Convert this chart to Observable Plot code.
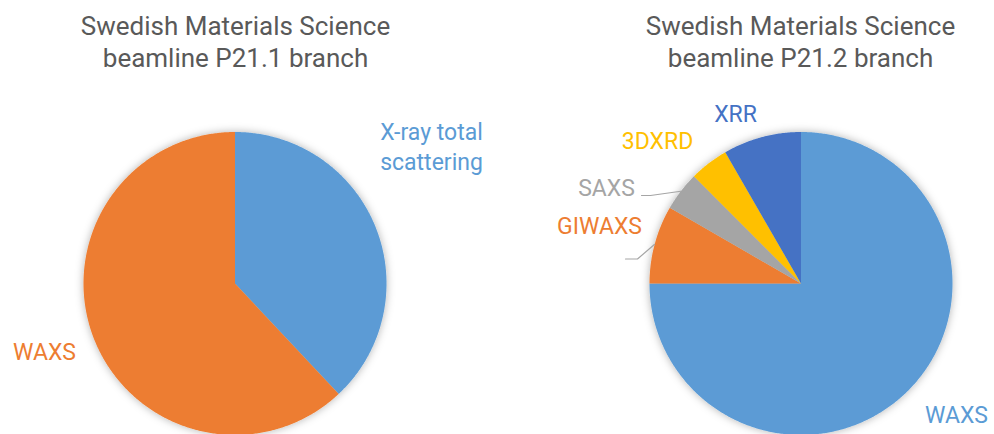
<!DOCTYPE html>
<html><head><meta charset="utf-8">
<script src="https://cdn.jsdelivr.net/npm/d3@7"></script>
<script src="https://cdn.jsdelivr.net/npm/@observablehq/plot@0.6"></script>
<style>body{margin:0;background:#fff}</style>
</head><body><div id="chart"></div>
<script>
// ---- data ----
const leftCategories = ["X-ray total scattering", "WAXS"];
const leftValues = [38, 62];
const rightCategories = ["WAXS", "GIWAXS", "SAXS", "3DXRD", "XRR"];
const rightValues = [18, 2, 1, 1, 2];
const titleLines = [
  ["Swedish Materials Science", "beamline P21.1 branch"],
  ["Swedish Materials Science", "beamline P21.2 branch"]
];
const leftLabels = ["X-ray total\nscattering", "WAXS"];
const rightLabels = ["WAXS", "GIWAXS", "SAXS", "3DXRD", "XRR"];

// ---- layout / style ----
const W = 994, H = 434;
const palette = ["#5B9BD5", "#ED7D31", "#A5A5A5", "#FFC000", "#4472C4"];
const pies = [
  {cats: leftCategories, vals: leftValues, labels: leftLabels, cx: 234.5, cy: 283, r: 151.5, titleX: 235,
   labelPos: [{x: 431, y: 145}, {x: 44, y: 350}], leads: [null, null]},
  {cats: rightCategories, vals: rightValues, labels: rightLabels, cx: 800.5, cy: 283, r: 151.5, titleX: 800,
   labelPos: [{x: 956, y: 413}, {x: 599, y: 224}, {x: 606, y: 186}, {x: 657, y: 139}, {x: 735, y: 112}],
   leads: [null, [[625, 258.5], [637, 258.5]], [[641, 195], [650, 195]], null, null]}
];

const slicePts = [], textRows = [], leadPts = [];
pies.forEach((p, pi) => {
  const total = d3.sum(p.vals);
  let acc = 0;
  p.vals.forEach((v, i) => {
    const a0 = acc / total * 2 * Math.PI;
    acc += v;
    const a1 = acc / total * 2 * Math.PI;
    const key = pi + "-" + i;
    const col = palette[i % palette.length];
    slicePts.push({key, x: p.cx, y: p.cy, color: col});
    const n = Math.max(2, Math.ceil((a1 - a0) / (Math.PI / 360)));
    for (let k = 0; k <= n; k++) {
      const a = a0 + (a1 - a0) * k / n;
      slicePts.push({key, x: p.cx + p.r * Math.sin(a), y: p.cy - p.r * Math.cos(a), color: col});
    }
    slicePts.push({key, x: p.cx, y: p.cy, color: col});
    textRows.push({text: p.labels[i], x: p.labelPos[i].x, y: p.labelPos[i].y, color: col});
    if (p.leads[i]) {
      const am = (a0 + a1) / 2;
      const pts = [...p.leads[i], [p.cx + p.r * Math.sin(am), p.cy - p.r * Math.cos(am)]];
      pts.forEach(([x, y]) => leadPts.push({key, x, y}));
    }
  });
});
const titleRows = pies.map((p, pi) => ({text: titleLines[pi].join("\n"), x: p.titleX, y: 40}));

const svg = Plot.plot({
  width: W, height: H,
  margin: 0,
  x: {domain: [0, W], range: [0, W], axis: null},
  y: {domain: [0, H], range: [0, H], axis: null},
  color: {type: "identity"},
  style: {fontFamily: "Roboto, sans-serif", background: "white", overflow: "visible"},
  marks: [
    Plot.line(slicePts, {x: "x", y: "y", z: "key", fill: "color", stroke: "none", curve: "linear"}),
    Plot.line(leadPts, {x: "x", y: "y", z: "key", stroke: "#A5A5A5", strokeWidth: 1.2, curve: "linear"}),
    Plot.text(textRows, {x: "x", y: "y", text: "text", fill: "color", fontSize: 23, lineHeight: 1.3}),
    Plot.text(titleRows, {x: "x", y: "y", text: "text", fill: "#595959", fontSize: 26, lineHeight: 1.23})
  ]
});

// soft shadow around pies
const ns = "http://www.w3.org/2000/svg";
const defs = document.createElementNS(ns, "defs");
defs.innerHTML = '<filter id="pieShadow" x="-20%" y="-20%" width="140%" height="140%"><feDropShadow dx="0" dy="0" stdDeviation="4" flood-color="#000" flood-opacity="0.3"/></filter>';
svg.insertBefore(defs, svg.firstChild);
const pieG = svg.querySelector('g[aria-label="line"]');
if (pieG) pieG.setAttribute("filter", "url(#pieShadow)");
document.getElementById("chart").appendChild(svg);
</script>
</body></html>
